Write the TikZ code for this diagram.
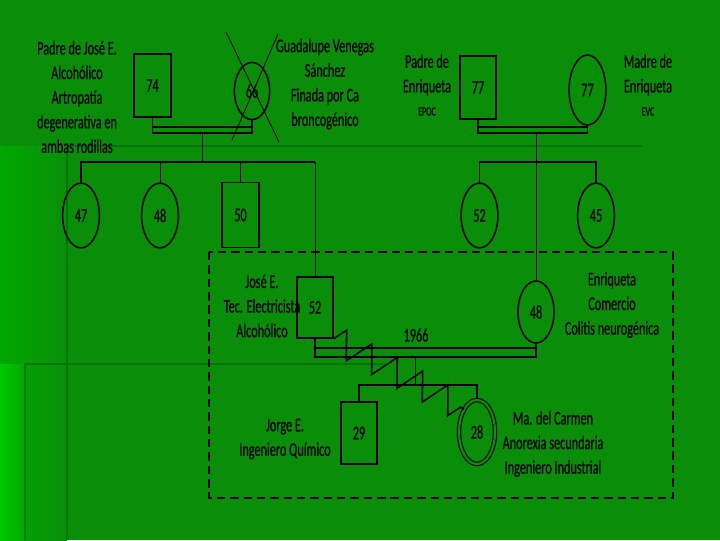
\documentclass[tikz,border=0pt]{standalone}
\usepackage{fontspec}
\setmainfont{Carlito}[FakeStretch=0.63,FakeBold=0.5]
\usetikzlibrary{shapes.geometric,decorations.pathmorphing}
\definecolor{bgmain}{RGB}{10,142,10}
\definecolor{bgleft}{RGB}{0,168,0}
\definecolor{bgcorner}{RGB}{0,200,0}
\definecolor{bgline}{RGB}{0,118,0}
\newcommand{\lbl}{\fontsize{13.8}{17.5}\selectfont}
\newcommand{\sml}{\fontsize{9}{9}\selectfont}

\begin{document}
\begin{tikzpicture}[
  x=0.025cm,y=-0.025cm,
  male/.style={draw,line width=1.1pt,minimum width=0.92cm,minimum height=1.57cm,
    inner sep=0pt,font=\lbl},
  female/.style={ellipse,draw,line width=1.1pt,minimum width=0.92cm,minimum height=1.62cm,
    inner sep=0pt,font=\lbl},
  txt/.style={align=center,font=\lbl},
  lnk/.style={line width=1.1pt},
  thinlnk/.style={line width=0.6pt}]
\useasboundingbox (0,0) rectangle (720,540);
\fill[bgmain] (0,0) rectangle (720,540);
\shade[left color=bgleft,right color=bgmain] (0,146) rectangle (67,540);
\shade[left color=bgcorner,right color=bgleft] (0,364) rectangle (25,540);
\draw[bgline,line width=1.6pt] (67,146) -- (67,540) (67,146) -- (642,146)
  (25,540) -- (25,364) -- (385,364);

\node[male] (pj) at (152.5,85.5) {74};
\node[female,minimum width=0.88cm,minimum height=1.43cm] (gv) at (252,91) {66};
\node[male,minimum width=0.9cm] (pe) at (478,87.5) {77};
\node[female,minimum height=1.75cm] (me) at (587.5,90) {77};
\node[female] (s47) at (81,215.5) {47};
\node[female] (s48) at (160,215.5) {48};
\node[male,minimum height=1.62cm] (s50) at (240.5,215) {50};
\node[female] (s52) at (479.5,215.5) {52};
\node[female] (s45) at (596,215.5) {45};
\node[male,minimum width=0.9cm,minimum height=1.52cm] (jose) at (315,307.5) {52};
\node[female,minimum width=0.9cm,minimum height=1.55cm] (enri) at (536,312) {48};
\node[male,minimum width=0.9cm,minimum height=1.55cm] (jorge) at (359,433) {29};
\node[female,double=bgmain,double distance=1.6pt,line width=0.8pt,minimum width=0.9cm,
  minimum height=1.6cm] (carmen) at (477,432) {28};

\node[txt] (tpj) at (77,97) {Padre de José E.\\Alcohólico\\Artropatía\\degenerativa en\\ambas rodillas};
\node[txt] (tgv) at (325,84) {Guadalupe Venegas\\Sánchez\\Finada por Ca\\broncogénico};
\node[txt] (tpe) at (427,85) {Padre de\\Enriqueta\\[-1pt]{\sml EPOC}};
\node[txt] (tme) at (648,85) {Madre de\\Enriqueta\\[-1pt]{\sml EVC}};
\node[txt] (tjose) at (262,306) {José E.\\Tec. Electricista\\Alcohólico};
\node[txt] (tenri) at (612,305) {Enriqueta\\Comercio\\Colitis neurogénica};
\node[txt] (tjorge) at (285,439) {Jorge E.\\Ingeniero Químico};
\node[txt] (tcarmen) at (553,444) {Ma. del Carmen\\Anorexia secundaria\\Ingeniero Industrial};
\node[txt] (tyear) at (416,335) {1966};

\draw[thinlnk] (gv) ++(-26,-59) -- ++(53,110);
\draw[thinlnk] (gv) ++(26,-57) -- ++(-46,106);

\coordinate (m1t) at (0,127);
\coordinate (m1b) at (0,133);
\draw[lnk] (pj.south) -- (pj.south |- m1b) -- (gv.south |- m1b) -- (gv.south);
\draw[lnk] (pj.south |- m1t) -- (gv.south |- m1t);
\draw[lnk] (pe.south) -- (pe.south |- m1b) -- (me.south |- m1b) -- (me.south);
\draw[lnk] (pe.south |- m1t) -- (me.south |- m1t);

\coordinate (k1) at (202,133);
\coordinate (h1) at (202,162);
\draw[thinlnk] (k1) -- (h1);
\draw[lnk] (s47.north) |- (jose.north |- h1);
\draw[thinlnk] (jose.north |- h1) -- (jose.north);
\draw[thinlnk] (s48.north) -- (s48.north |- h1);
\draw[lnk] (s50.north) -- (s50.north |- h1);
\coordinate (k2) at (536,133);
\draw[thinlnk] (k2) -- (enri.north);
\draw[lnk] (s52.north) |- (s45.north |- h1) -- (s45.north);

\coordinate (m2t) at (0,348);
\coordinate (m2b) at (0,357);
\draw[lnk] (jose.south) -- (jose.south |- m2b) -- (enri.south |- m2b) -- (enri.south);
\draw[lnk] (jose.south |- m2t) -- (enri.south |- m2t);
\coordinate (k3) at (415,357);
\coordinate (h3) at (415,385);
\draw[thinlnk] (k3) -- (h3);
\draw[lnk] (jorge.north) |- (carmen.north |- h3) -- (carmen.north);
\draw[lnk,decorate,decoration={zigzag,segment length=0.72cm,amplitude=0.34cm}]
  (jose.south east) -- (carmen.north west);

\draw[line width=1.2pt,dash pattern=on 6pt off 3.5pt] (209,252) rectangle (673,498);
\end{tikzpicture}
\end{document}
